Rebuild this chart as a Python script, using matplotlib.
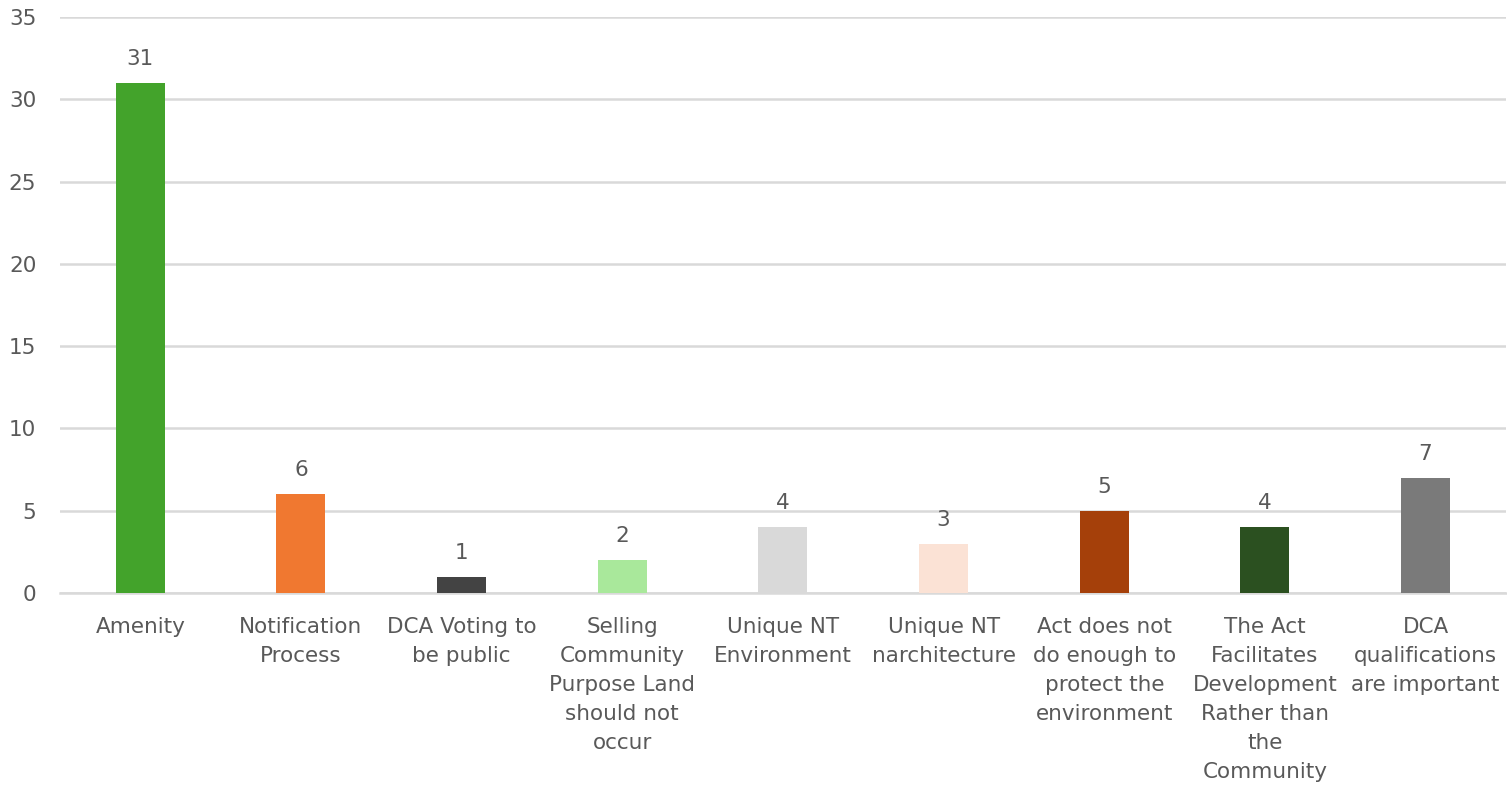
import matplotlib.pyplot as plt

# ---------------------------
# Datos
# ---------------------------
categorias = [
    "Amenity",
    "Notification\nProcess",
    "DCA Voting to\nbe public",
    "Selling\nCommunity\nPurpose Land\nshould not\noccur",
    "Unique NT\nEnvironment",
    "Unique NT\nnarchitecture",
    "Act does not\ndo enough to\nprotect the\nenvironment",
    "The Act\nFacilitates\nDevelopment\nRather than\nthe\nCommunity",
    "DCA\nqualifications\nare important",
]
valores = [31, 6, 1, 2, 4, 3, 5, 4, 7]
colores = ["#43A32B", "#F07830", "#434343", "#A9E89B", "#D9D9D9",
           "#FBE2D5", "#A5400A", "#2B5020", "#7A7A7A"]
y_ticks = [0, 5, 10, 15, 20, 25, 30, 35]

TXT = "#595959"

# ---------------------------
# Figura
# ---------------------------
fig = plt.figure(figsize=(15.07, 7.86), dpi=100)
ax = fig.add_axes([0.0398, 0.2455, 0.9595, 0.7329])

x = range(len(categorias))
bars = ax.bar(x, valores, width=0.305, color=colores, zorder=3)

for b, v in zip(bars, valores):
    ax.annotate(str(v), (b.get_x() + b.get_width() / 2, v),
                xytext=(0, 10), textcoords="offset points",
                ha="center", va="bottom", fontsize=15.5, color=TXT)

ax.set_xlim(-0.5, len(categorias) - 0.5)
ax.set_ylim(0, 35)
ax.set_yticks(y_ticks)
ax.set_xticks(list(x))
ax.set_xticklabels(categorias, fontsize=15.5, color=TXT, linespacing=1.57)
ax.tick_params(axis="y", labelsize=15.5, labelcolor=TXT, length=0, pad=17)
ax.tick_params(axis="x", length=0, pad=17)

ax.grid(axis="y", color="#D9D9D9", linewidth=1.8, zorder=0)
for s in ["top", "right", "left"]:
    ax.spines[s].set_visible(False)
ax.spines["bottom"].set_color("#D9D9D9")
ax.spines["bottom"].set_linewidth(1.8)

fig.savefig("out.png", dpi=100)
